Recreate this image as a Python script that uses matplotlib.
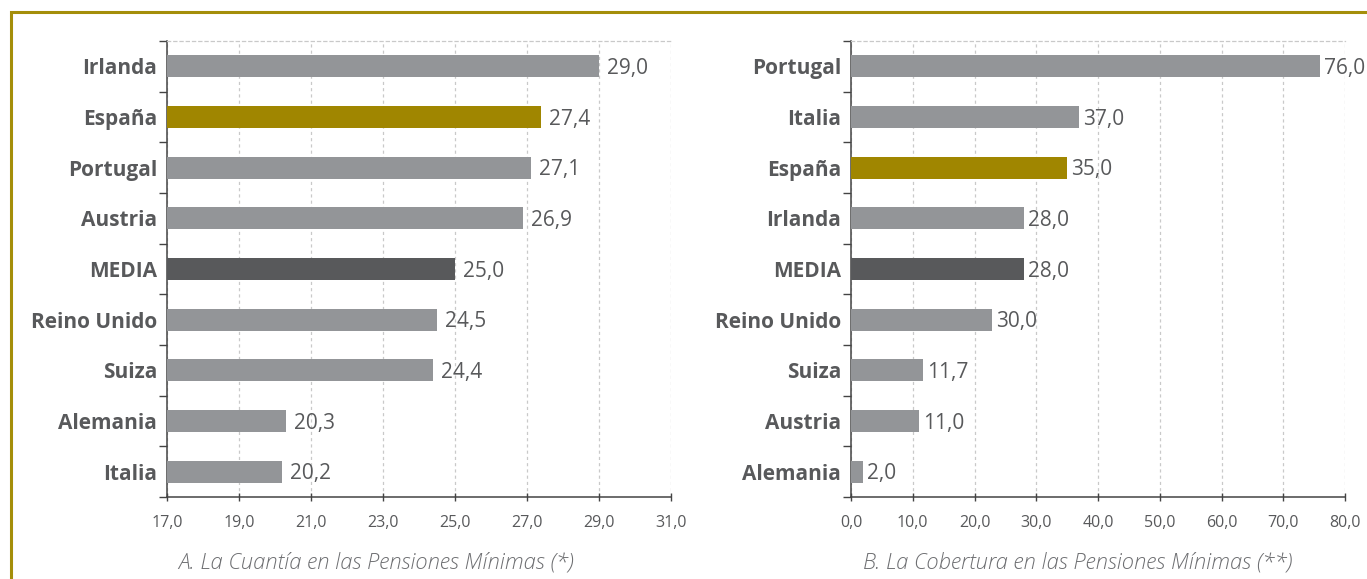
import matplotlib
matplotlib.use("Agg")
import matplotlib.pyplot as plt
from matplotlib.patches import Rectangle

# datos (de arriba a abajo)
paises_a = ["Irlanda", "España", "Portugal", "Austria", "MEDIA",
            "Reino Unido", "Suiza", "Alemania", "Italia"]
cuantia = [29.0, 27.4, 27.1, 26.9, 25.0, 24.5, 24.4, 20.3, 20.2]

paises_b = ["Portugal", "Italia", "España", "Irlanda", "MEDIA",
            "Reino Unido", "Suiza", "Austria", "Alemania"]
cobertura = [76.0, 37.0, 35.0, 28.0, 28.0, 22.8, 11.7, 11.0, 2.0]
# etiquetas tal cual aparecen en el grafico original
etiquetas_b = ["76,0", "37,0", "35,0", "28,0", "28,0", "30,0", "11,7", "11,0", "2,0"]

ticks_a = [17, 19, 21, 23, 25, 27, 29, 31]
ticks_b = [0, 10, 20, 30, 40, 50, 60, 70, 80]

GRIS = "#939598"
ORO = "#A08600"
OSCURO = "#58595B"
TEXTO = "#58595B"
BORDE = "#A48E0A"

plt.rcParams['font.family'] = ['Open Sans', 'DejaVu Sans']

W, H = 1367, 579
fig = plt.figure(figsize=(W / 100, H / 100), dpi=100)

# marco dorado
fig.patches.append(Rectangle((11 / W, -0.2), 2.0, (579 - 12) / H + 0.2,
                             transform=fig.transFigure, fill=False,
                             edgecolor=BORDE, linewidth=2.2))


def color_de(p):
    if p == "España":
        return ORO
    if p == "MEDIA":
        return OSCURO
    return GRIS


def panel(x0, x1, paises, valores, etiquetas, ticks, xlim, offset):
    ax = fig.add_axes([x0 / W, (H - 497) / H, (x1 - x0) / W, 456 / H])
    y = list(range(len(paises)))
    ax.barh(y, valores, height=0.43, color=[color_de(p) for p in paises],
            zorder=3)
    ax.set_ylim(len(paises) - 0.5, -0.5)
    ax.set_xlim(*xlim)
    ax.set_yticks([i - 0.5 for i in range(len(paises) + 1)])
    ax.set_yticklabels([])
    ax.set_yticks(y, minor=True)
    ax.set_yticklabels(paises, minor=True, fontweight='bold', fontsize=15,
                       color=TEXTO)
    ax.tick_params(axis='y', which='minor', length=0, pad=7)
    ax.tick_params(axis='y', which='major', length=6, width=1, color="#444444",
                   direction='out')
    ax.set_xticks(ticks)
    ax.set_xticklabels([f"{t:.1f}".replace(".", ",") for t in ticks],
                       fontsize=11.5, color=TEXTO)
    ax.tick_params(axis='x', length=6, width=1, color="#444444",
                   direction='inout', pad=10)
    ax.grid(axis='x', linestyle=(0, (2.5, 2.5)), color="#c9c9c9",
            linewidth=0.9, zorder=0)
    for s in ["left", "bottom"]:
        ax.spines[s].set_color("#444444")
        ax.spines[s].set_linewidth(1.1)
    ax.spines["right"].set_visible(False)
    ax.spines["top"].set_linestyle((0, (2.5, 2.5)))
    ax.spines["top"].set_color("#c9c9c9")
    ax.spines["top"].set_linewidth(0.9)
    for yi, v, t in zip(y, valores, etiquetas):
        ax.annotate(t, (v, yi), xytext=(offset, -2), textcoords='offset pixels',
                    va='center', ha='left', fontsize=15, color=TEXTO)
    return ax


etiquetas_a = [f"{v:.1f}".replace(".", ",") for v in cuantia]
panel(167, 671, paises_a, cuantia, etiquetas_a, ticks_a, (17, 31), 8)
panel(851, 1345, paises_b, cobertura, etiquetas_b, ticks_b, (0, 80), 4)

fig.text(376 / W, 1 - 563 / H, "A. La Cuantía en las Pensiones Mínimas (*)",
         ha='center', va='center', fontsize=15.8, style='italic',
         fontweight='light', color="#6d6e71")
fig.text(1078 / W, 1 - 563 / H, "B. La Cobertura en las Pensiones Mínimas (**)",
         ha='center', va='center', fontsize=15.8, style='italic',
         fontweight='light', color="#6d6e71")

fig.savefig("out.png", dpi=100)
